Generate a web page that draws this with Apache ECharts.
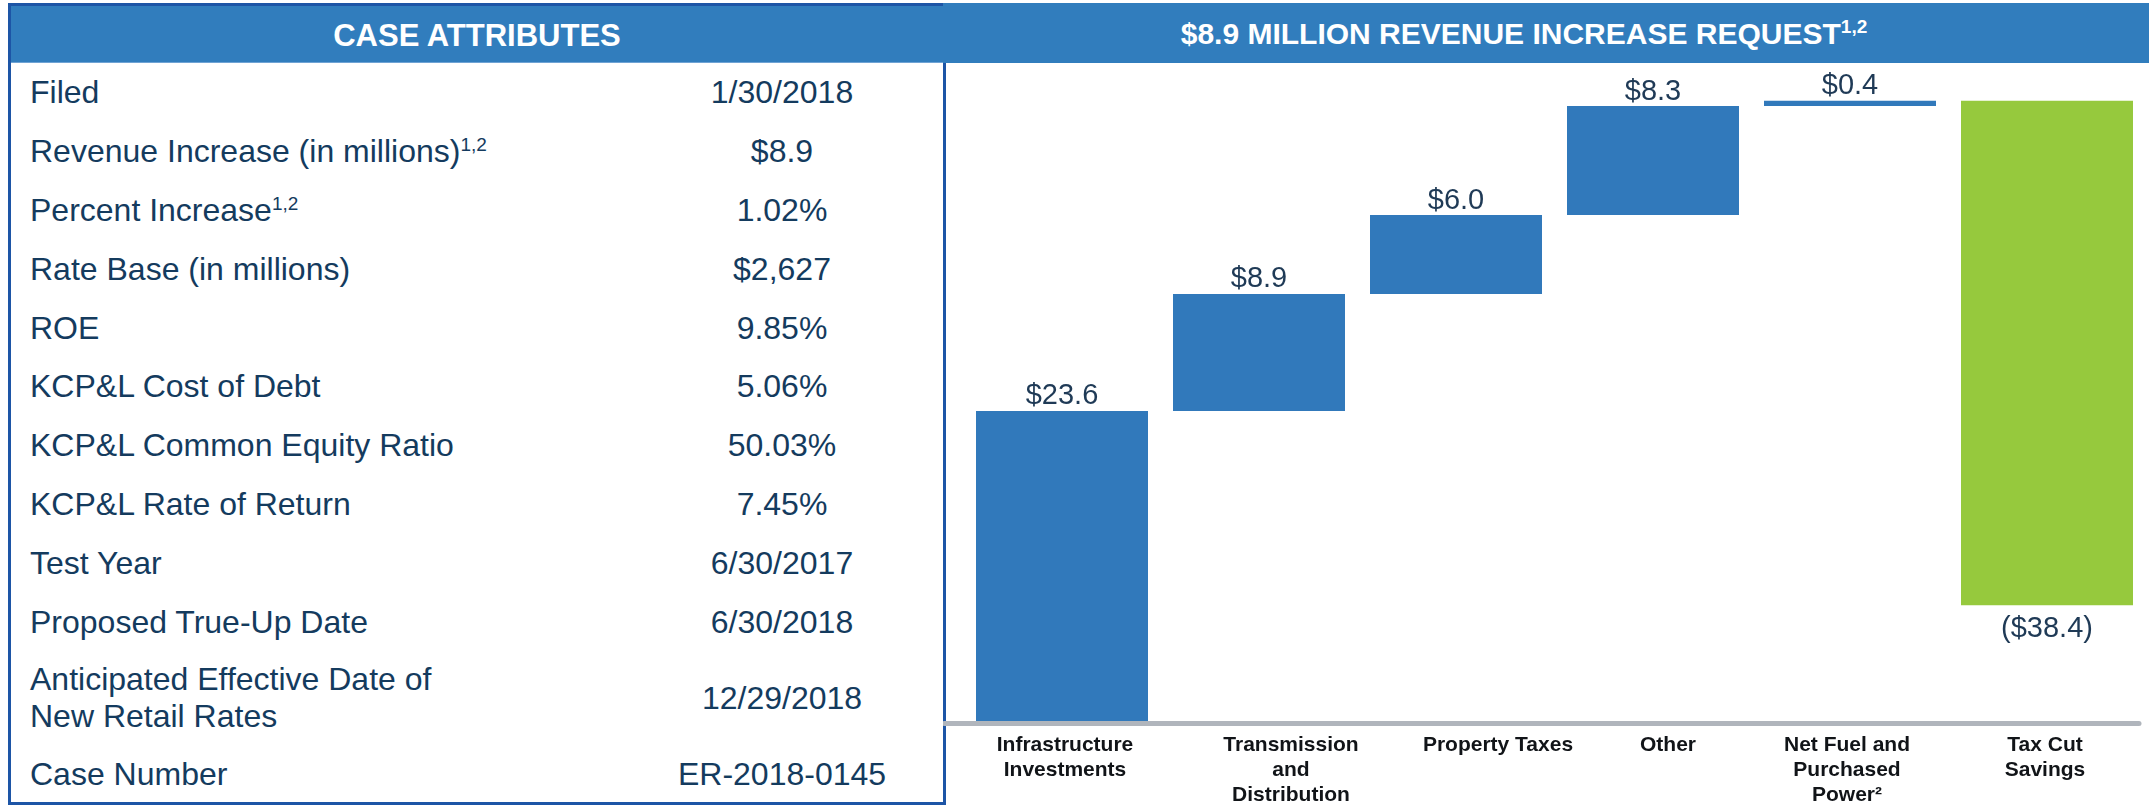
<!DOCTYPE html>
<html>
<head>
<meta charset="utf-8">
<title>KCP&amp;L Case Attributes and Revenue Increase</title>
<script src="https://cdn.jsdelivr.net/npm/echarts@6/dist/echarts.min.js"></script>
<style>
  html, body {
    margin: 0;
    padding: 0;
    width: 2149px;
    height: 806px;
    background: #ffffff;
    overflow: hidden;
    font-family: 'Liberation Sans', Arial, sans-serif;
  }
  .case-panel {
    position: absolute;
    left: 8px;
    top: 3px;
    width: 932px;
    height: 796px;
    border: 3px solid #1d55a6;
    background: #ffffff;
  }
  .panel-head {
    height: 57px;
    line-height: 59px;
    background: #317dbd;
    color: #ffffff;
    font-weight: bold;
    font-size: 31px;
    text-align: center;
    border-bottom: 1px solid #6fa3d4;
    box-sizing: border-box;
  }
  .row {
    position: relative;
  }
  .row .label,
  .row .value {
    position: absolute;
    top: 50%;
    transform: translateY(-50%);
    color: #143b5e;
    font-size: 32px;
    white-space: pre-line;
    line-height: 37px;
  }
  .row .label {
    left: 19px;
  }
  .row .value {
    left: 621px;
    width: 300px;
    text-align: center;
  }
  sup {
    font-size: 19px;
    vertical-align: 11px;
    line-height: 0;
  }
  .chart-head {
    position: absolute;
    left: 943px;
    top: 3px;
    right: 0;
    height: 60px;
    line-height: 62px;
    padding-right: 44px;
    background: #317dbd;
    color: #ffffff;
    font-weight: bold;
    font-size: 30px;
    text-align: center;
  }
  #chart {
    position: absolute;
    left: 943px;
    top: 63px;
    width: 1206px;
    height: 743px;
  }
</style>
</head>
<body>
<div class="case-panel">
  <div class="panel-head">CASE ATTRIBUTES</div>
  <div id="rows"></div>
</div>
<div class="chart-head">$8.9 MILLION REVENUE INCREASE REQUEST<sup>1,2</sup></div>
<div id="chart"></div>

<script>
// case attributes table
const attrLabels = [
  'Filed',
  'Revenue Increase (in millions)',
  'Percent Increase',
  'Rate Base (in millions)',
  'ROE',
  'KCP&L Cost of Debt',
  'KCP&L Common Equity Ratio',
  'KCP&L Rate of Return',
  'Test Year',
  'Proposed True-Up Date',
  'Anticipated Effective Date of\nNew Retail Rates',
  'Case Number'
]
const attrNotes = ['', '1,2', '1,2', '', '', '', '', '', '', '', '', '']
const attrValues = [
  '1/30/2018',
  '$8.9',
  '1.02%',
  '$2,627',
  '9.85%',
  '5.06%',
  '50.03%',
  '7.45%',
  '6/30/2017',
  '6/30/2018',
  '12/29/2018',
  'ER-2018-0145'
]

// waterfall chart
const categories = [
  'Infrastructure\nInvestments',
  'Transmission\nand\nDistribution',
  'Property Taxes',
  'Other',
  'Net Fuel and\nPurchased\nPower²',
  'Tax Cut\nSavings'
]
const amounts = [23.6, 8.9, 6.0, 8.3, 0.4, -38.4]

const BLUE = '#3179bb'
const GREEN = '#96c93d'
const LABEL_SHIFT = [3, 32, 42, 15, -3, -2] // category labels sit a bit off-centre in the source

function buildRows() {
  const box = document.getElementById('rows')
  attrLabels.forEach((text, i) => {
    const row = document.createElement('div')
    row.className = 'row'
    const isLast = i === attrLabels.length - 1
    row.style.height = text.indexOf('\n') >= 0 ? '94px' : (isLast ? '58px' : '58.8px')

    const label = document.createElement('div')
    label.className = 'label'
    label.textContent = text
    if (attrNotes[i]) {
      const sup = document.createElement('sup')
      sup.textContent = attrNotes[i]
      label.appendChild(sup)
    }
    const value = document.createElement('div')
    value.className = 'value'
    value.textContent = attrValues[i]

    row.appendChild(label)
    row.appendChild(value)
    box.appendChild(row)
  })
}

function buildChart() {
  const chart = echarts.init(document.getElementById('chart'), null, { renderer: 'canvas' })

  // invisible base + visible step, the usual waterfall trick
  let running = 0
  const baseData = []
  const stepData = []
  amounts.forEach(v => {
    const next = running + v
    baseData.push(Math.min(running, next))
    stepData.push({
      value: Math.abs(v),
      itemStyle: { color: v < 0 ? GREEN : BLUE },
      label: v < 0 ? { position: 'bottom', distance: 9 } : { position: 'top', distance: 0 }
    })
    running = next
  })

  const rich = {}
  LABEL_SHIFT.forEach((s, i) => {
    rich['c' + i] = {
      fontFamily: 'Liberation Sans, Arial, sans-serif',
      fontSize: 21,
      fontWeight: 'bold',
      color: '#111418',
      lineHeight: 25,
      padding: [0, s < 0 ? -2 * s : 0, 0, s > 0 ? 2 * s : 0]
    }
  })

  chart.setOption({
    animation: false,
    grid: [
      { left: 20.5, width: 1182, top: 1, bottom: 83 },
      { left: 1, right: 10, top: 1, bottom: 83 }
    ],
    xAxis: [
      {
        type: 'category',
        gridIndex: 0,
        data: categories,
        axisLine: { show: false },
        axisTick: { show: false },
        axisLabel: {
          interval: 0,
          margin: 12,
          formatter: (val, idx) => val.split('\n').map(line => '{c' + idx + '|' + line + '}').join('\n'),
          rich: rich
        }
      },
      {
        // plain grey base line running under the whole panel
        type: 'value',
        gridIndex: 1,
        min: 0,
        max: 1,
        z: 5,
        axisLine: { show: true, lineStyle: { color: '#b0b5bc', width: 5 } },
        axisTick: { show: false },
        axisLabel: { show: false },
        splitLine: { show: false }
      }
    ],
    yAxis: [
      { type: 'value', gridIndex: 0, min: 0, max: 50, show: false },
      { type: 'value', gridIndex: 1, min: 0, max: 50, show: false }
    ],
    series: [
      {
        name: 'base',
        type: 'bar',
        stack: 'flow',
        barWidth: 172,
        itemStyle: { color: 'transparent' },
        emphasis: { disabled: true },
        data: baseData
      },
      {
        name: 'step',
        type: 'bar',
        stack: 'flow',
        barWidth: 172,
        label: {
          show: true,
          fontFamily: 'Liberation Sans, Arial, sans-serif',
          fontSize: 29,
          color: '#1f3a56',
          formatter: p => {
            const v = amounts[p.dataIndex]
            return v < 0 ? '($' + (-v).toFixed(1) + ')' : '$' + v.toFixed(1)
          }
        },
        data: stepData
      }
    ]
  })

  window.addEventListener('resize', () => chart.resize())
}

buildRows()
buildChart()
</script>
</body>
</html>
